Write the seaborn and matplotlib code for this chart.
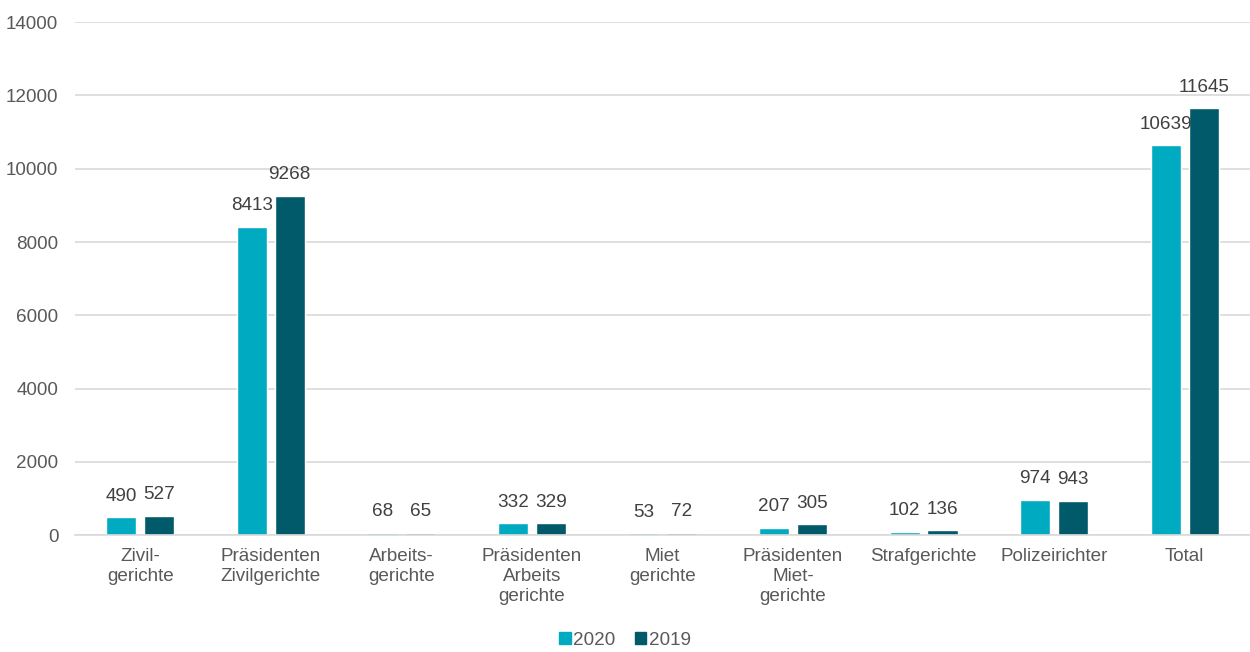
import matplotlib
matplotlib.use("Agg")
import matplotlib.pyplot as plt
import seaborn as sns
import pandas as pd
from matplotlib.patches import Patch

categories = ["Zivil-\ngerichte", "Präsidenten\nZivilgerichte", "Arbeits-\ngerichte",
              "Präsidenten\nArbeits\ngerichte", "Miet\ngerichte", "Präsidenten\nMiet-\ngerichte",
              "Strafgerichte", "Polizeirichter", "Total"]
values_2020 = [490, 8413, 68, 332, 53, 207, 102, 974, 10639]
values_2019 = [527, 9268, 65, 329, 72, 305, 136, 943, 11645]
series = ["2020", "2019"]
colors = ["#00ABC2", "#005A69"]

df = pd.DataFrame({
    "cat": categories * 2,
    "year": ["2020"] * len(categories) + ["2019"] * len(categories),
    "value": values_2020 + values_2019,
})

sns.set_theme(style="white")
plt.rcParams["font.family"] = ["Liberation Sans", "DejaVu Sans"]

FS = 13.6
fig = plt.figure(figsize=(12.5, 6.52), dpi=100)
ax = fig.add_axes([0.06, 0.179, 0.94, 0.787])

sns.barplot(data=df, x="cat", y="value", hue="year", hue_order=series,
            palette=colors, order=categories, width=0.58, gap=0.2,
            ax=ax, legend=False, saturation=1)

for cont in ax.containers:
    ax.bar_label(cont, labels=[f"{int(v)}" for v in cont.datavalues],
                 padding=9, fontsize=FS, color="#404040")

ax.set_ylim(0, 14000)
ax.set_xlim(-0.5, len(categories) - 0.5)
ax.set_yticks(range(0, 14001, 2000))
ax.yaxis.grid(True, color="#D9D9D9", linewidth=1.2)
ax.set_axisbelow(True)
for s in ["top", "right", "left"]:
    ax.spines[s].set_visible(False)
ax.spines["bottom"].set_color("#D9D9D9")
ax.spines["bottom"].set_linewidth(1.2)
ax.set_xlabel("")
ax.set_ylabel("")
ax.tick_params(axis="y", length=0, pad=12, labelsize=FS, labelcolor="#595959")
ax.tick_params(axis="x", length=0, pad=9, labelsize=FS, labelcolor="#595959")
ax.set_xticks(range(len(categories)))
ax.set_xticklabels(categories, linespacing=1.25)

handles = [Patch(color=c, label=s) for c, s in zip(colors, series)]
fig.legend(handles=handles, loc="lower center", bbox_to_anchor=(0.5, -0.021), ncol=2,
           frameon=False, fontsize=FS, handlelength=0.6, handleheight=0.6,
           handletextpad=0.15, columnspacing=1.0, labelcolor="#595959")

fig.savefig("out.png", dpi=100)
